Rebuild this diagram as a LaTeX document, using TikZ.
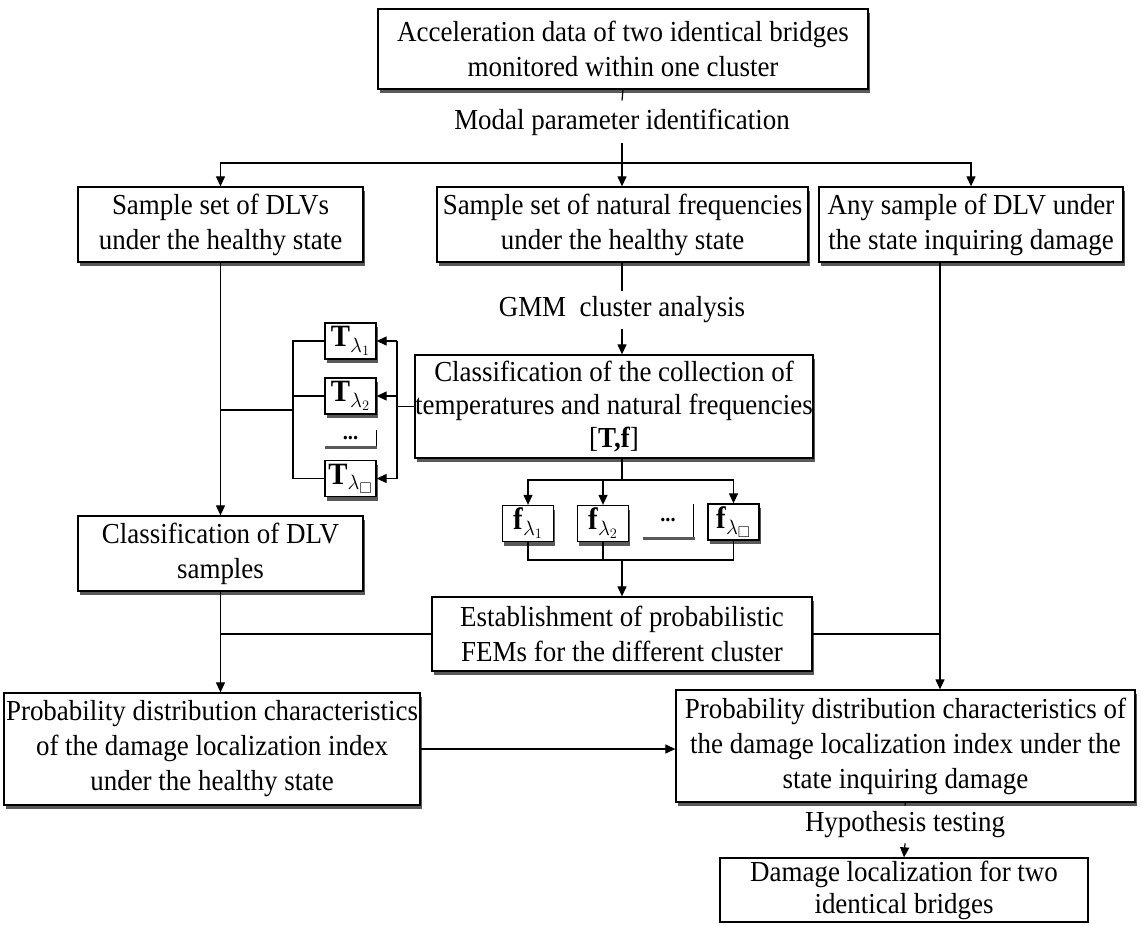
\documentclass[tikz,border=0pt]{standalone}
\usepackage{fontspec}
\setmainfont{Liberation Serif}[FakeStretch=0.93]
\usepackage{amssymb}
\usetikzlibrary{arrows.meta,shadows}
\begin{document}
\begin{tikzpicture}[x=1pt,y=-1pt,
  every node/.style={font=\fontsize{29}{35}\selectfont},
  box/.style={draw, line width=1.3pt, fill=white, align=center, inner sep=0pt},
  sbox/.style={box, general shadow={fill=black!65, shadow xshift=1.5pt, shadow yshift=-4pt}},
  tb/.style={sbox, minimum width=51pt, minimum height=36pt, font=\fontsize{31}{35}\selectfont},
  lab/.style={inner sep=0pt, align=center},
  dots/.style={inner sep=0pt, font=\fontsize{22}{24}\selectfont\bfseries},
  con/.style={line width=1.2pt},
  arr/.style={con, -{Triangle[length=10pt,width=9pt]}},
]
\useasboundingbox (0,0) rectangle (1142,925);

% boxes
\node[sbox, minimum width=490pt, minimum height=80pt] (top) at (623,49)
  {Acceleration data of two identical bridges\\monitored within one cluster};
\node[lab] (modal) at (622,122) {Modal parameter identification};
\node[sbox, minimum width=285pt, minimum height=75pt] (L) at (220.5,224.5)
  {Sample set of DLVs\\under the healthy state};
\node[sbox, minimum width=371pt, minimum height=75pt] (M) at (622.5,224.5)
  {Sample set of natural frequencies\\under the healthy state};
\node[sbox, minimum width=304pt, minimum height=75pt] (R) at (971,224.5)
  {Any sample of DLV under\\the state inquiring damage};
\node[lab] (gmm) at (622,310) {GMM\ \ cluster analysis};
\node[sbox, minimum width=398pt, minimum height=103pt, font=\fontsize{29}{33}\selectfont] (C) at (614,406.5)
  {Classification of the collection of\\temperatures and natural frequencies\\{}[\textbf{T,f}]};

\node[tb] (T1) at (350.5,341) {\textbf{T}$_{\lambda_1}$};
\node[tb] (T2) at (350.5,396) {\textbf{T}$_{\lambda_2}$};
\node[dots] (Td) at (350.5,438) {...};
\node[tb] (Tn) at (350.5,478.5) {\textbf{T}$_{\lambda_\square}$};

\node[tb] (f1) at (528,523.5) {\textbf{f}$_{\lambda_1}$};
\node[tb] (f2) at (603,523.5) {\textbf{f}$_{\lambda_2}$};
\node[dots] (fd) at (668,520) {...};
\node[tb] (fn) at (733.5,522) {\textbf{f}$_{\lambda_\square}$};

\node[sbox, minimum width=285pt, minimum height=75pt] (D) at (220.5,553.5)
  {Classification of DLV\\samples};
\node[sbox, minimum width=380pt, minimum height=74pt] (E) at (622,634)
  {Establishment of probabilistic\\FEMs for the different cluster};
\node[sbox, minimum width=416pt, minimum height=112pt] (PL) at (212,749)
  {Probability distribution characteristics\\of the damage localization index\\under the healthy state};
\node[sbox, minimum width=459pt, minimum height=112pt] (PR) at (905.5,746)
  {Probability distribution characteristics of\\the damage localization index under the\\state inquiring damage};
\node[lab] (hyp) at (905,825) {Hypothesis testing};
\node[box, minimum width=368pt, minimum height=64pt, font=\fontsize{29}{32}\selectfont] (B) at (904,890)
  {Damage localization for two\\identical bridges};

% dots boxes (right edge and bottom band only)
\draw[line width=1pt] ([xshift=25.5pt,yshift=8pt]Td.center) -- ([xshift=25.5pt,yshift=-8pt]Td.center);
\fill[black!65] ([xshift=-25.5pt,yshift=-8pt]Td.center) rectangle ([xshift=26.5pt,yshift=-11pt]Td.center);
\draw[line width=1pt] ([xshift=25.5pt,yshift=16pt]fd.center) -- ([xshift=25.5pt,yshift=-17pt]fd.center);
\fill[black!65] ([xshift=-25.5pt,yshift=-17pt]fd.center) rectangle ([xshift=26.5pt,yshift=-20pt]fd.center);

% top part
\coordinate (h) at (622,163);
\draw[con] (top.south) -- ([yshift=8pt]modal.north);
\draw[arr] ([yshift=-8pt]modal.south) -- (modal.south |- M.north);
\draw[arr] (h) -| (L.north);
\draw[arr] (h) -| (R.north);

% middle column
\draw[con] (M.south -| gmm) -- ([yshift=6pt]gmm.north);
\draw[arr] ([yshift=-6pt]gmm.south) -- (gmm.south |- C.north);

% left column
\draw[arr] (L.south) -- (D.north);
\coordinate (jl) at (220.5,410);
\coordinate (bt) at (293,341);
\coordinate (bb) at (293,478.5);
\draw[con] (T1.west) -- (bt) -- (bb) -- (Tn.west);
\draw[con] (T2.west) -- (T2.west -| bt);
\draw[con] (jl) -- (jl -| bt);
\coordinate (rt) at (397,341);
\coordinate (rb) at (397,478.5);
\draw[con] (rt) -- (rb);
\draw[arr] (rt) -- (T1.east);
\draw[arr] (T2.east -| rt) -- (T2.east);
\draw[arr] (rb) -- (Tn.east);
\draw[con] (C.west) -- (C.west -| rt);

% f boxes
\coordinate (ft) at (622,480);
\draw[con] (C.south -| ft) -- (ft);
\draw[arr] (ft) -| (f1.north);
\draw[arr] (ft) -| (fn.north);
\draw[arr] (f2.north |- ft) -- (f2.north);
\coordinate (fb) at (622,560);
\draw[con] (f1.south) |- (fb);
\draw[con] (fn.south) |- (fb);
\draw[con] (f2.south) -- (f2.south |- fb);
\draw[arr] (fb) -- (E.north);

% lower part
\coordinate (rv) at (940,262);
\draw[con] (E.west) -- (E.west -| D.south);
\draw[arr] (D.south) -- (D.south |- PL.north);
\draw[arr] (rv) -- (rv |- PR.north);
\draw[con] (E.east) -- (E.east -| rv);
\draw[arr] (PL.east) -- (PL.east -| PR.west);
\draw[con] (PR.south) -- ([yshift=6pt]hyp.north);
\draw[arr] ([yshift=-5pt]hyp.south) -- (B.north);
\end{tikzpicture}
\end{document}
